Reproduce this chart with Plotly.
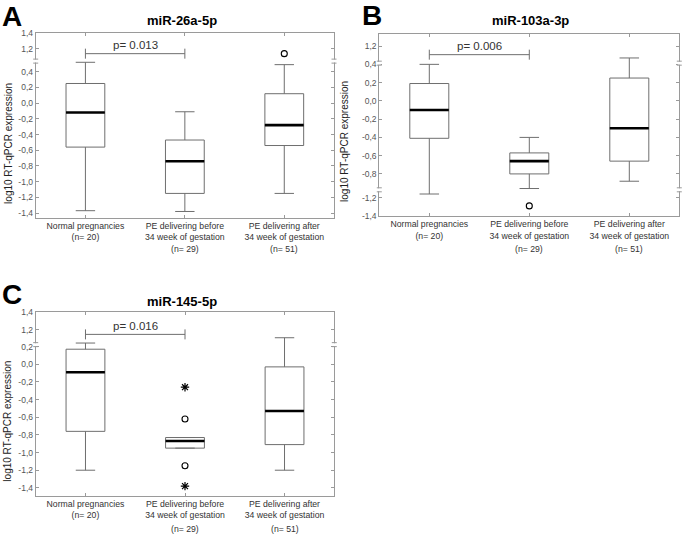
import plotly.graph_objects as go

# ---------------- data ----------------
groups = ["Normal pregnancies", "PE delivering before", "PE delivering after"]
group_line2 = ["", "34 week of gestation", "34 week of gestation"]
group_n = [20, 29, 51]

# Panel A: miR-26a-5p
A_q1 = [-0.56, -1.15, -0.54]
A_median = [-0.12, -0.74, -0.28]
A_q3 = [0.25, -0.47, 0.12]
A_low = [-1.37, -1.38, -1.15]
A_high = [0.52, -0.11, 0.49]
A_out_circle_x = [2]
A_out_circle_y = [1.14]
A_p = "p= 0.013"
A_p_y = 1.14

# Panel B: miR-103a-3p
B_q1 = [-0.41, -0.80, -0.66]
B_median = [-0.10, -0.66, -0.30]
B_q3 = [0.19, -0.57, 0.25]
B_low = [-1.16, -0.96, -0.88]
B_high = [0.40, -0.40, 0.47]
B_out_circle_x = [1]
B_out_circle_y = [-1.29]
B_p = "p= 0.006"
B_p_y = 1.11

# Panel C: miR-145-5p
C_q1 = [-0.76, -0.95, -0.91]
C_median = [-0.09, -0.87, -0.53]
C_q3 = [0.17, -0.83, -0.03]
C_low = [-1.20, -0.95, -1.20]
C_high = [0.24, -0.83, 0.30]
C_out_circle_x = [1, 1]
C_out_circle_y = [-0.62, -1.15]
C_out_star_x = [1, 1]
C_out_star_y = [-0.26, -1.38]
C_p = "p= 0.016"
C_p_y = 1.15

A_ticks = [1.4, 1.2, 0.4, 0.2, 0.0, -0.2, -0.4, -0.6, -0.8, -1.0, -1.2, -1.4]
B_ticks = [1.2, 0.4, 0.2, 0.0, -0.2, -0.4, -0.6, -0.8, -1.2, -1.4]
C_ticks = [1.4, 1.2, 0.2, 0.0, -0.2, -0.4, -0.6, -0.8, -1.0, -1.2, -1.4]

W, H = 682, 539
FONT = "Arial, Liberation Sans, sans-serif"


def py(p):
    return 1 - p / H


def px(p):
    return p / W


def fmt(v):
    return ("%.1f" % v).replace(".", ",")


# broken-axis settings: (upper threshold, upper offset, lower threshold, lower offset)
panels = [
    dict(s="", letter="A", title="miR-26a-5p",
         q1=A_q1, med=A_median, q3=A_q3, lo=A_low, hi=A_high,
         oc=(A_out_circle_x, A_out_circle_y), os=([], []),
         p=A_p, py_=A_p_y, ticks=A_ticks,
         brk=(0.9, 0.51, -9, 0.0), breaks=[0.535],
         xdom=[px(35.7), px(334)], ydom=[py(216.7), py(28.3)], yr=[-1.459, 0.896],
         letter_pos=(0, 12), title_pos=(182, 16), ytitle_pos=(8.5, 141),
         n_y=249),
    dict(s="2", letter="B", title="miR-103a-3p",
         q1=B_q1, med=B_median, q3=B_q3, lo=B_low, hi=B_high,
         oc=(B_out_circle_x, B_out_circle_y), os=([], []),
         p=B_p, py_=B_p_y, ticks=B_ticks,
         brk=(0.9, 0.604, -1.1, 0.14), breaks=[0.413, -0.974],
         xdom=[px(379.3), px(679.3)], ydom=[py(215), py(29.3)], yr=[-1.261, 0.735],
         letter_pos=(360, 11), title_pos=(530, 16), ytitle_pos=(344.5, 139),
         n_y=248.5),
    dict(s="3", letter="C", title="miR-145-5p",
         q1=C_q1, med=C_median, q3=C_q3, lo=C_low, hi=C_high,
         oc=(C_out_circle_x, C_out_circle_y), os=(C_out_star_x, C_out_star_y),
         p=C_p, py_=C_p_y, ticks=C_ticks,
         brk=(0.9, 0.812, -9, 0.0), breaks=[0.222],
         xdom=[px(35.7), px(334.3)], ydom=[py(500), py(312.3)], yr=[-1.489, 0.597],
         letter_pos=(0, 295), title_pos=(182, 302), ytitle_pos=(7.5, 424),
         n_y=533.5),
]

fig = go.Figure()
BOXW = 0.39
LINEC = "#6e6e6e"
AXC = "#9a9a9a"
CATF = 8.7

layout = dict(width=W, height=H, margin=dict(l=0, r=0, t=0, b=0),
              paper_bgcolor="white", plot_bgcolor="white", showlegend=False,
              font=dict(family=FONT))
annotations = []
shapes = []

for P in panels:
    s = P["s"]
    ut, uo, lt, lo_ = P["brk"]

    def d(v, ut=ut, uo=uo, lt=lt, lo_=lo_):
        if v > ut:
            return v - uo
        if v < lt:
            return v + lo_
        return v

    xa, ya = "x" + s, "y" + s
    xs = list(range(len(groups)))
    fig.add_trace(go.Box(
        x=xs, q1=[d(v) for v in P["q1"]], median=[d(v) for v in P["med"]],
        q3=[d(v) for v in P["q3"]], lowerfence=[d(v) for v in P["lo"]],
        upperfence=[d(v) for v in P["hi"]], xaxis=xa, yaxis=ya,
        width=BOXW, whiskerwidth=0.5, fillcolor="white",
        line=dict(color=LINEC, width=1), boxpoints=False, hoverinfo="skip"))
    # thick median lines
    mx, my = [], []
    for i, m in enumerate(P["med"]):
        mx += [i - BOXW / 2, i + BOXW / 2, None]
        my += [d(m), d(m), None]
    fig.add_trace(go.Scatter(x=mx, y=my, mode="lines", xaxis=xa, yaxis=ya,
                             line=dict(color="black", width=2.6), hoverinfo="skip"))
    # outliers
    ox, oy = P["oc"]
    if ox:
        fig.add_trace(go.Scatter(x=ox, y=[d(v) for v in oy], mode="markers", xaxis=xa, yaxis=ya,
                                 marker=dict(symbol="circle-open", size=6,
                                             color="black", line=dict(width=1.1)),
                                 hoverinfo="skip"))
    sx, sy = P["os"]
    if sx:
        fig.add_trace(go.Scatter(x=sx, y=[d(v) for v in sy], mode="markers", xaxis=xa, yaxis=ya,
                                 marker=dict(symbol="asterisk-open", size=7,
                                             color="black", line=dict(width=1.2, color="black")),
                                 hoverinfo="skip"))
    # axes
    ticktext = []
    for g, l2, n in zip(groups, group_line2, group_n):
        if l2:
            ticktext.append(g + "<br>" + l2)
        else:
            ticktext.append(g + "<br>(n= %d)" % n)
    layout["xaxis" + s] = dict(
        domain=P["xdom"], anchor=ya, range=[-0.5, 2.5], tickvals=xs, ticktext=ticktext,
        showline=True, linecolor=AXC, linewidth=1, mirror="ticks", ticks="inside",
        ticklen=3, tickcolor=AXC, showgrid=False, zeroline=False,
        tickfont=dict(size=CATF, color="#333333", family=FONT), fixedrange=True)
    layout["yaxis" + s] = dict(
        domain=P["ydom"], anchor=xa, range=P["yr"],
        tickvals=[d(v) for v in P["ticks"]], ticktext=[fmt(v) for v in P["ticks"]],
        showline=True, linecolor=AXC, linewidth=1, mirror="ticks", ticks="inside",
        ticklen=3, tickcolor=AXC, showgrid=False, zeroline=False,
        tickfont=dict(size=8.5, color="#555555", family=FONT), fixedrange=True)

    # (n= ..) lines under the three-line categories
    for i, (l2, n) in enumerate(zip(group_line2, group_n)):
        if l2:
            annotations.append(dict(x=i, xref=xa, y=py(P["n_y"]), yref="paper",
                                    text="(n= %d)" % n, showarrow=False,
                                    font=dict(size=CATF, color="#333333", family=FONT),
                                    xanchor="center", yanchor="middle"))
    # significance bracket between group 0 and 1
    yb = d(P["py_"])
    shapes.append(dict(type="line", xref=xa, yref=ya, x0=0, x1=1, y0=yb, y1=yb,
                       line=dict(color=LINEC, width=1)))
    for xe in (0, 1):
        shapes.append(dict(type="line", xref=xa, yref=ya, xsizemode="scaled",
                           ysizemode="pixel", yanchor=yb, x0=xe, x1=xe, y0=-5, y1=5,
                           line=dict(color=LINEC, width=1)))
    annotations.append(dict(x=0.5, xref=xa, y=yb, yref=ya, yshift=8.5, text=P["p"],
                            showarrow=False, font=dict(size=11.5, color="#333333", family=FONT),
                            xanchor="center", yanchor="middle"))
    # axis breaks on left and right borders
    for b in P["breaks"]:
        for xe in (0, 1):
            shapes.append(dict(type="line", xref=xa + " domain", yref=ya,
                               xsizemode="pixel", ysizemode="pixel", xanchor=xe, yanchor=b,
                               x0=0, x1=0, y0=-1.5, y1=1.5,
                               line=dict(color="white", width=3)))
            for dy in (-2, 2):
                shapes.append(dict(type="line", xref=xa + " domain", yref=ya,
                                   xsizemode="pixel", ysizemode="pixel", xanchor=xe, yanchor=b,
                                   x0=-2.5, x1=2.5, y0=dy, y1=dy,
                                   line=dict(color=AXC, width=1)))
    # titles
    lx, ly = P["letter_pos"]
    annotations.append(dict(x=px(lx), y=py(ly), xref="paper", yref="paper", text="<b>%s</b>" % P["letter"],
                            showarrow=False, xanchor="left", yanchor="middle",
                            font=dict(size=28, color="black", family=FONT)))
    tx, ty = P["title_pos"]
    annotations.append(dict(x=px(tx), y=py(ty), xref="paper", yref="paper", text="<b>%s</b>" % P["title"],
                            showarrow=False, xanchor="center", yanchor="middle",
                            font=dict(size=13, color="black", family=FONT)))
    yx, yy = P["ytitle_pos"]
    annotations.append(dict(x=px(yx), y=py(yy), xref="paper", yref="paper",
                            text="log10 RT-qPCR expression", textangle=-90,
                            showarrow=False, xanchor="center", yanchor="middle",
                            font=dict(size=10, color="#222222", family=FONT)))

layout["annotations"] = annotations
layout["shapes"] = shapes
fig.update_layout(**layout)
fig.write_html("out.html", config={"displayModeBar": False},
               post_script="document.body.style.margin='0px';document.body.style.overflow='hidden';")
